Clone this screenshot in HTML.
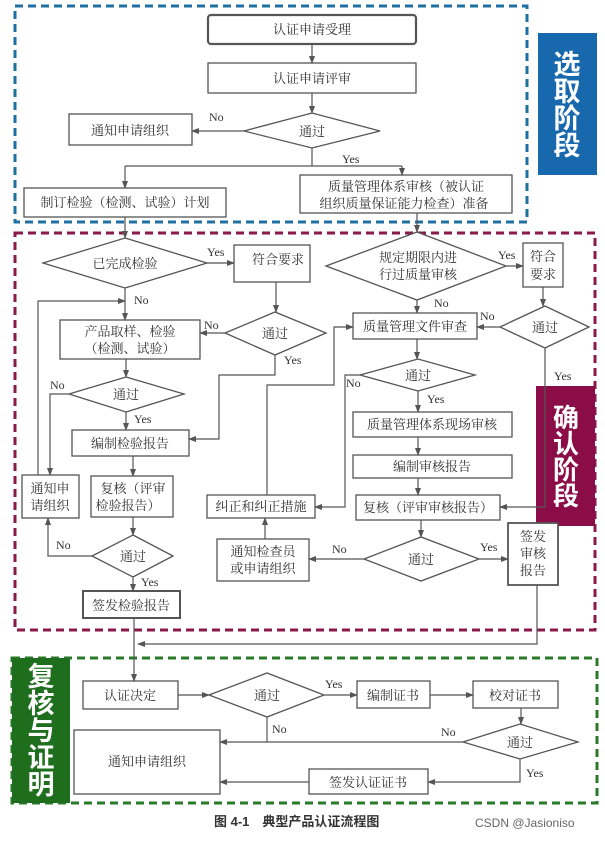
<!DOCTYPE html>
<html><head><meta charset="utf-8"><style>
body{margin:0;background:#fff;}
svg text{font-family:"Liberation Serif","Noto Serif CJK SC",serif;fill:#333;}
.s{font-family:"Liberation Sans","Noto Sans CJK SC",sans-serif;font-weight:bold;fill:#fff;}
</style></head><body>
<svg width="605" height="839" viewBox="0 0 605 839" xmlns="http://www.w3.org/2000/svg">
<defs><marker id="a" markerWidth="8" markerHeight="6" refX="7" refY="3" orient="auto" markerUnits="userSpaceOnUse"><path d="M0,0 L8,3 L0,6 z" fill="#555"/></marker></defs>
<g fill="none" stroke-width="3" stroke-dasharray="8,5">
<rect x="15" y="6" width="512" height="216" stroke="#1f6fa0"/>
<rect x="15" y="233" width="580" height="397" stroke="#8a1a4a"/>
<rect x="12" y="658" width="585" height="145" stroke="#2a7a2a"/>
</g>
<rect x="538" y="33" width="59" height="142" fill="#1768ad"/>
<text class="s" font-size="27" text-anchor="middle"><tspan x="567" y="74">选</tspan><tspan x="567" y="101">取</tspan><tspan x="567" y="128">阶</tspan><tspan x="567" y="155">段</tspan></text>
<rect x="536" y="386" width="59" height="140" fill="#8b0d48"/>
<text class="s" font-size="26" text-anchor="middle"><tspan x="566" y="427">确</tspan><tspan x="566" y="453">认</tspan><tspan x="566" y="479">阶</tspan><tspan x="566" y="505">段</tspan></text>
<rect x="12" y="658" width="58" height="145" fill="#1e6e1e"/>
<text class="s" font-size="27" text-anchor="middle"><tspan x="41" y="686">复</tspan><tspan x="41" y="713">核</tspan><tspan x="41" y="740">与</tspan><tspan x="41" y="767">证</tspan><tspan x="41" y="794">明</tspan></text>

<g fill="#fff" stroke="#555" stroke-width="1.3">
<rect x="208" y="15" width="208" height="29" rx="3" stroke-width="2.2"/>
<rect x="208" y="63" width="208" height="30"/>
<polygon points="244,131 312,113 380,131 312,148"/>
<rect x="69" y="114" width="123" height="31"/>
<rect x="24" y="188" width="202" height="29"/>
<rect x="300" y="175" width="212" height="38"/>
<polygon points="43,263 125,238 207,263 125,288"/>
<rect x="234" y="245" width="76" height="37"/>
<polygon points="225,333 275,312 326,333 275,355"/>
<rect x="60" y="320" width="140" height="39"/>
<polygon points="69,394 126,377 184,394 126,412"/>
<rect x="72" y="430" width="117" height="26"/>
<rect x="22" y="475" width="57" height="43"/>
<rect x="91" y="476" width="82" height="41"/>
<polygon points="92,556 133,535 173,556 133,577"/>
<rect x="83" y="591" width="97" height="27" stroke-width="2"/>
<polygon points="326,266 417,232 506,266 417,300"/>
<rect x="523" y="243" width="40" height="44"/>
<rect x="353" y="313" width="124" height="26"/>
<polygon points="500,327 545,306 589,327 545,348"/>
<polygon points="360,375 418,359 475,375 418,391"/>
<rect x="353" y="412" width="159" height="25"/>
<rect x="353" y="455" width="159" height="23"/>
<rect x="356" y="495" width="144" height="25"/>
<polygon points="364,559 421,537 479,559 421,581"/>
<rect x="508" y="523" width="50" height="62" stroke-width="1.8"/>
<rect x="217" y="539" width="92" height="42"/>
<rect x="207" y="495" width="108" height="23"/>
<rect x="83" y="681" width="95" height="28"/>
<polygon points="209,695 267,673 324,695 267,717"/>
<rect x="357" y="681" width="73" height="27"/>
<rect x="473" y="681" width="85" height="27"/>
<polygon points="463,742 520,724 578,742 520,759"/>
<rect x="74" y="730" width="146" height="64"/>
<rect x="309" y="769" width="119" height="25"/>
</g>

<g fill="none" stroke="#555" stroke-width="1.2">
<path d="M312,44V63" marker-end="url(#a)"/>
<path d="M312,93V113" marker-end="url(#a)"/>
<path d="M244,131H192" marker-end="url(#a)"/>
<path d="M312,148V166"/>
<path d="M125,166H402"/>
<path d="M125,166V188" marker-end="url(#a)"/>
<path d="M402,166V175" marker-end="url(#a)"/>
<path d="M125,217V238" marker-end="url(#a)"/>
<path d="M417,213V232" marker-end="url(#a)"/>
<path d="M207,263H234" marker-end="url(#a)"/>
<path d="M276,282V312" marker-end="url(#a)"/>
<path d="M225,333H200" marker-end="url(#a)"/>
<path d="M125,288V320" marker-end="url(#a)"/>
<path d="M38,475V301H125" marker-end="url(#a)"/>
<path d="M126,359V377" marker-end="url(#a)"/>
<path d="M69,394H50V475" marker-end="url(#a)"/>
<path d="M126,412V430" marker-end="url(#a)"/>
<path d="M275,355V375H219V439H189" marker-end="url(#a)"/>
<path d="M133,456V476" marker-end="url(#a)"/>
<path d="M133,517V535" marker-end="url(#a)"/>
<path d="M92,556H48V518" marker-end="url(#a)"/>
<path d="M133,577V591" marker-end="url(#a)"/>
<path d="M506,266H523" marker-end="url(#a)"/>
<path d="M417,300V313" marker-end="url(#a)"/>
<path d="M543,287V306" marker-end="url(#a)"/>
<path d="M500,327H477" marker-end="url(#a)"/>
<path d="M545,348V507H500" marker-end="url(#a)"/>
<path d="M417,339V359" marker-end="url(#a)"/>
<path d="M360,375H345V507H315" marker-end="url(#a)"/>
<path d="M418,391V412" marker-end="url(#a)"/>
<path d="M418,437V455" marker-end="url(#a)"/>
<path d="M418,478V495" marker-end="url(#a)"/>
<path d="M421,520V537" marker-end="url(#a)"/>
<path d="M364,559H309" marker-end="url(#a)"/>
<path d="M479,559H508" marker-end="url(#a)"/>
<path d="M265,539V518" marker-end="url(#a)"/>
<path d="M267,495V385H334V327H353" marker-end="url(#a)"/>
<path d="M537,585V644H138" marker-end="url(#a)"/>
<path d="M134,618V681" marker-end="url(#a)"/>
<path d="M178,695H209" marker-end="url(#a)"/>
<path d="M324,695H357" marker-end="url(#a)"/>
<path d="M430,695H473" marker-end="url(#a)"/>
<path d="M521,708V724" marker-end="url(#a)"/>
<path d="M267,717V742"/>
<path d="M463,742H220" marker-end="url(#a)"/>
<path d="M520,759V782H428" marker-end="url(#a)"/>
<path d="M309,782H220" marker-end="url(#a)"/>
</g>

<g font-size="13" text-anchor="middle">
<text x="312" y="34">认证申请受理</text>
<text x="312" y="83">认证申请评审</text>
<text x="312" y="136">通过</text>
<text x="130" y="135">通知申请组织</text>
<text x="125" y="207">制订检验（检测、试验）计划</text>
<text x="406" y="191">质量管理体系审核（被认证</text>
<text x="404" y="208">组织质量保证能力检查）准备</text>
<text x="125" y="268">已完成检验</text>
<text x="278" y="264">符合要求</text>
<text x="275" y="338">通过</text>
<text x="130" y="336">产品取样、检验</text>
<text x="130" y="353">（检测、试验）</text>
<text x="126" y="399">通过</text>
<text x="130" y="448">编制检验报告</text>
<text x="50" y="493">通知申</text>
<text x="50" y="510">请组织</text>
<text x="133" y="493">复核（评审</text>
<text x="128" y="510">检验报告）</text>
<text x="133" y="561">通过</text>
<text x="131" y="610">签发检验报告</text>
<text x="418" y="262">规定期限内进</text>
<text x="418" y="279">行过质量审核</text>
<text x="543" y="261">符合</text>
<text x="543" y="279">要求</text>
<text x="415" y="331">质量管理文件审查</text>
<text x="545" y="332">通过</text>
<text x="418" y="380">通过</text>
<text x="432" y="429">质量管理体系现场审核</text>
<text x="432" y="471">编制审核报告</text>
<text x="428" y="512">复核（评审审核报告）</text>
<text x="421" y="564">通过</text>
<text x="533" y="541">签发</text>
<text x="533" y="558">审核</text>
<text x="533" y="575">报告</text>
<text x="263" y="556">通知检查员</text>
<text x="263" y="573">或申请组织</text>
<text x="261" y="511">纠正和纠正措施</text>
<text x="130" y="700">认证决定</text>
<text x="267" y="700">通过</text>
<text x="393" y="700">编制证书</text>
<text x="515" y="700">校对证书</text>
<text x="520" y="747">通过</text>
<text x="147" y="766">通知申请组织</text>
<text x="368" y="787">签发认证证书</text>
</g>
<g font-size="12">
<text x="209" y="121">No</text>
<text x="342" y="163">Yes</text>
<text x="207" y="256">Yes</text>
<text x="134" y="304">No</text>
<text x="204" y="329">No</text>
<text x="284" y="364">Yes</text>
<text x="50" y="389">No</text>
<text x="134" y="423">Yes</text>
<text x="56" y="549">No</text>
<text x="141" y="586">Yes</text>
<text x="498" y="259">Yes</text>
<text x="434" y="307">No</text>
<text x="480" y="320">No</text>
<text x="554" y="380">Yes</text>
<text x="346" y="387">No</text>
<text x="427" y="403">Yes</text>
<text x="332" y="553">No</text>
<text x="480" y="551">Yes</text>
<text x="325" y="688">Yes</text>
<text x="272" y="733">No</text>
<text x="441" y="736">No</text>
<text x="526" y="777">Yes</text>
</g>
<text x="214" y="826" font-size="13" font-weight="bold" style="font-family:'Liberation Sans','Noto Sans CJK SC',sans-serif">图 4-1　典型产品认证流程图</text>
<text x="475" y="827" font-size="12" fill="#666" style="font-family:'Liberation Sans',sans-serif;fill:#666">CSDN @Jasioniso</text>
</svg>
</body></html>
